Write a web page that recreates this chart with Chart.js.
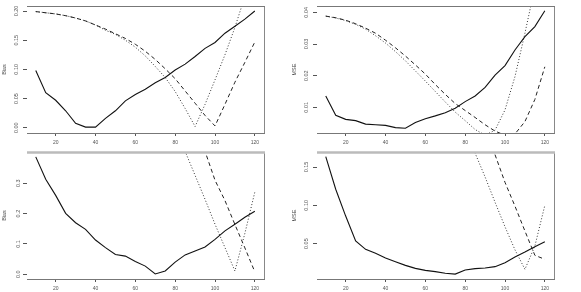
<!DOCTYPE html>
<html>
<head>
<meta charset="utf-8">
<title>Bias / MSE panels</title>
<script src="https://cdn.jsdelivr.net/npm/chart.js"></script>
<style>
  body { margin: 0; background: #fff; width: 581px; height: 292px; overflow: hidden; }
  .panel { position: absolute; }
</style>
</head>
<body>
<div class="panel" style="left:0;top:0"><canvas id="tl" width="290" height="146"></canvas></div>
<div class="panel" style="left:290px;top:0"><canvas id="tr" width="291" height="146"></canvas></div>
<div class="panel" style="left:0;top:146px"><canvas id="bl" width="290" height="146"></canvas></div>
<div class="panel" style="left:290px;top:146px"><canvas id="br" width="291" height="146"></canvas></div>
<script>
// x values shared by all panels
const xValues = [10, 15, 20, 25, 30, 35, 40, 45, 50, 55, 60, 65, 70, 75, 80, 85, 90, 95, 100, 105, 110, 115, 120];
const xTicks = [20, 40, 60, 80, 100, 120];

// top left: Bias
const tlSolid  = [0.098, 0.060, 0.047, 0.029, 0.0075, 0.001, 0.001, 0.016, 0.029, 0.046, 0.057, 0.066, 0.077, 0.086, 0.099, 0.109, 0.122, 0.136, 0.146, 0.162, 0.174, 0.186, 0.200];
const tlDashed = [0.199, 0.197, 0.195, 0.192, 0.188, 0.183, 0.176, 0.169, 0.161, 0.153, 0.143, 0.131, 0.117, 0.101, 0.084, 0.063, 0.042, 0.021, 0.003, 0.040, 0.078, 0.112, 0.147];
const tlDotted = [0.199, 0.197, 0.195, 0.192, 0.188, 0.183, 0.176, 0.167, 0.160, 0.150, 0.138, 0.123, 0.105, 0.086, 0.062, 0.033, 0.002, 0.040, 0.082, 0.125, 0.172, 0.225, 0.280];
const tlYTicks = [0, 0.05, 0.10, 0.15, 0.20];

// top right: MSE
const trSolid  = [0.0136, 0.0075, 0.0062, 0.0058, 0.0047, 0.0045, 0.0043, 0.0036, 0.0034, 0.0052, 0.0064, 0.0073, 0.0083, 0.0097, 0.0118, 0.0136, 0.0163, 0.0202, 0.0232, 0.0281, 0.0323, 0.0355, 0.0405];
const trDashed = [0.0388, 0.0383, 0.0375, 0.0364, 0.0350, 0.0334, 0.0312, 0.0288, 0.0262, 0.0234, 0.0205, 0.0172, 0.0141, 0.0112, 0.0090, 0.0068, 0.0045, 0.0025, 0.0012, 0.0016, 0.0055, 0.0125, 0.0228];
const trDotted = [0.0388, 0.0382, 0.0374, 0.0362, 0.0347, 0.0326, 0.0303, 0.0276, 0.0247, 0.0215, 0.0183, 0.0150, 0.0117, 0.0085, 0.0058, 0.0030, 0.0012, 0.0028, 0.0092, 0.0197, 0.0334, 0.0480, 0.0650];
const trYTicks = [0.01, 0.02, 0.03, 0.04];

// bottom left: Bias
const blSolid  = [0.387, 0.313, 0.260, 0.201, 0.170, 0.148, 0.113, 0.088, 0.065, 0.060, 0.042, 0.027, 0.001, 0.011, 0.040, 0.064, 0.077, 0.090, 0.115, 0.143, 0.165, 0.188, 0.208];
const blDashed = [null, null, null, null, null, null, null, null, null, null, null, null, null, null, null, null, 0.50, 0.405, 0.31, 0.243, 0.164, 0.087, 0.008];
const blDotted = [null, null, null, null, null, null, null, null, null, null, null, null, null, null, 0.50, 0.405, 0.326, 0.247, 0.165, 0.088, 0.011, 0.135, 0.271];
const blYTicks = [0, 0.1, 0.2, 0.3];

// bottom right: MSE
const brSolid  = [0.1635, 0.121, 0.086, 0.0535, 0.0426, 0.0374, 0.0313, 0.0265, 0.0217, 0.0178, 0.0152, 0.0135, 0.0115, 0.0103, 0.0157, 0.0174, 0.0183, 0.0200, 0.0252, 0.0326, 0.0391, 0.0461, 0.0526];
const brDashed = [null, null, null, null, null, null, null, null, null, null, null, null, null, null, null, null, 0.21, 0.166, 0.130, 0.099, 0.0665, 0.0348, 0.0296];
const brDotted = [null, null, null, null, null, null, null, null, null, null, null, null, null, null, 0.21, 0.168, 0.137, 0.104, 0.072, 0.042, 0.0165, 0.047, 0.100];
const brYTicks = [0.05, 0.10, 0.15];

const FONT = '"Liberation Sans", Arial, sans-serif';

// top / right edges of the R style box (left edge is not drawn)
const boxPlugin = {
  id: 'box',
  afterDraw(chart, args, opts) {
    const { ctx, chartArea: a } = chart;
    ctx.save();
    ctx.strokeStyle = '#888';
    ctx.lineWidth = 1;
    ctx.beginPath();
    ctx.moveTo(a.right + 0.5, a.top);
    ctx.lineTo(a.right + 0.5, a.bottom);
    ctx.stroke();
    ctx.strokeStyle = opts.topColor;
    ctx.lineWidth = opts.topWidth;
    ctx.beginPath();
    ctx.moveTo(a.left, a.top + 0.5);
    ctx.lineTo(a.right + 1, a.top + 0.5);
    ctx.stroke();
    ctx.restore();
  }
};

function series(ys) {
  return xValues.map((x, i) => ({ x: x, y: ys[i] }));
}

function makePanel(id, title, solid, dashed, dotted, yTicks, decimals, yMin, yMax, rightPad, topLine) {
  new Chart(document.getElementById(id), {
    type: 'line',
    data: {
      datasets: [
        { data: series(solid), borderColor: '#111', borderWidth: 1.1 },
        { data: series(dashed), borderColor: '#222', borderWidth: 1, borderDash: [4, 3] },
        { data: series(dotted), borderColor: '#333', borderWidth: 1, borderDash: [1, 2] }
      ]
    },
    options: {
      responsive: false,
      animation: false,
      devicePixelRatio: 1,
      parsing: false,
      elements: { point: { radius: 0 }, line: { tension: 0 } },
      layout: { padding: { left: 0, top: 6, right: rightPad, bottom: 0 } },
      plugins: {
        legend: { display: false },
        tooltip: { enabled: false },
        box: { topColor: topLine.color, topWidth: topLine.width }
      },
      scales: {
        x: {
          type: 'linear',
          min: 5.6,
          max: 124.6,
          afterFit: s => { s.height = 13; },
          afterBuildTicks: s => { s.ticks = xTicks.map(v => ({ value: v })); },
          grid: { drawOnChartArea: false, drawTicks: true, tickLength: 3, tickColor: '#555' },
          border: { display: true, color: '#777', width: 1 },
          ticks: {
            autoSkip: false,
            maxRotation: 0,
            padding: 4,
            color: '#555',
            font: { family: FONT, size: 5 },
            callback: v => String(v)
          }
        },
        y: {
          type: 'linear',
          min: yMin,
          max: yMax,
          afterFit: s => { s.width = 27; },
          afterBuildTicks: s => { s.ticks = yTicks.map(v => ({ value: v })); },
          grid: { drawOnChartArea: false, drawTicks: true, tickLength: 4, tickColor: '#555' },
          border: { display: false },
          title: {
            display: true,
            text: title,
            color: '#444',
            font: { family: FONT, size: 5.5 },
            padding: { top: 1, bottom: 0 }
          },
          ticks: {
            autoSkip: false,
            minRotation: 90,
            maxRotation: 90,
            crossAlign: 'center',
            padding: 1,
            color: '#555',
            font: { family: FONT, size: 5.5 },
            callback: v => v.toFixed(decimals)
          }
        }
      }
    },
    plugins: [boxPlugin]
  });
}

const thinTop = { color: '#777', width: 1 };
const thickTop = { color: '#bbb', width: 2.5 };

makePanel('tl', 'Bias', tlSolid, tlDashed, tlDotted, tlYTicks, 2, -0.0091, 0.2086, 26, thinTop);
makePanel('tr', 'MSE', trSolid, trDashed, trDotted, trYTicks, 2, 0.0019, 0.0420, 27, thinTop);
makePanel('bl', 'Bias', blSolid, blDashed, blDotted, blYTicks, 1, -0.0155, 0.403, 26, thickTop);
makePanel('br', 'MSE', brSolid, brDashed, brDotted, brYTicks, 2, 0.0039, 0.1696, 27, thickTop);
</script>
</body>
</html>
